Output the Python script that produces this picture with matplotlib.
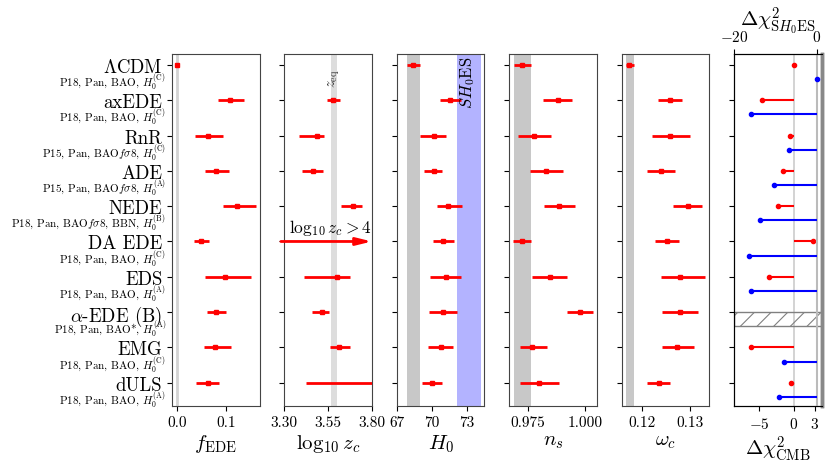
import numpy as np
import matplotlib
matplotlib.use("Agg")
import matplotlib.pyplot as plt
from matplotlib import transforms

plt.rcParams['font.family'] = 'serif'
plt.rcParams['font.serif'] = ['cmr10', 'DejaVu Serif']
plt.rcParams['mathtext.fontset'] = 'cm'
plt.rcParams['axes.unicode_minus'] = False
plt.rcParams['hatch.linewidth'] = 0.8

nan = np.nan

models = [r'$\Lambda$CDM', 'axEDE', 'RnR', 'ADE', 'NEDE', 'DA EDE', 'EDS',
          r'$\alpha$-EDE (B)', 'EMG', 'dULS']
datasets = [r'P18, Pan, BAO, $H_0^{\mathrm{(C)}}$',
            r'P18, Pan, BAO, $H_0^{\mathrm{(C)}}$',
            r'P15, Pan, BAO$f\sigma8$, $H_0^{\mathrm{(C)}}$',
            r'P15, Pan, BAO$f\sigma8$, $H_0^{\mathrm{(A)}}$',
            r'P18, Pan, BAO$f\sigma8$, BBN, $H_0^{\mathrm{(B)}}$',
            r'P18, Pan, BAO, $H_0^{\mathrm{(C)}}$',
            r'P18, Pan, BAO, $H_0^{\mathrm{(A)}}$',
            r'P18, Pan, BAO*, $H_0^{\mathrm{(A)}}$',
            r'P18, Pan, BAO, $H_0^{\mathrm{(C)}}$',
            r'P18, Pan, BAO, $H_0^{\mathrm{(A)}}$']

# best fit, lower and upper ends of the bars
f_ede = [0.0, 0.107, 0.063, 0.080, 0.122, 0.049, 0.097, 0.080, 0.077, 0.062]
f_ede_lo = [nan, 0.084, 0.036, 0.056, 0.093, 0.035, 0.057, 0.061, 0.055, 0.038]
f_ede_hi = [nan, 0.136, 0.093, 0.105, 0.160, 0.066, 0.151, 0.100, 0.109, 0.085]

log_zc = [nan, 3.579, 3.485, 3.462, 3.693, nan, 3.603, 3.512, 3.613, nan]
log_zc_lo = [nan, 3.544, 3.386, 3.401, 3.625, nan, 3.414, 3.459, 3.558, 3.426]
log_zc_hi = [nan, 3.619, 3.529, 3.521, 3.745, nan, 3.674, 3.556, 3.674, 3.90]

h0 = [68.40, 71.57, 70.14, 70.17, 71.40, 70.91, 71.17, 70.97, 70.77, 70.00]
h0_lo = [67.88, 70.71, 68.94, 69.31, 70.40, 70.11, 69.83, 69.71, 69.63, 69.11]
h0_hi = [68.94, 72.48, 71.17, 70.86, 72.54, 71.86, 72.43, 72.11, 71.77, 70.86]

n_s = [0.9725, 0.9884, 0.9778, 0.9831, 0.9889, 0.9727, 0.9847, 0.9977, 0.9770, 0.9801]
n_s_lo = [0.9689, 0.9817, 0.9707, 0.9759, 0.9822, 0.9687, 0.9770, 0.9924, 0.9717, 0.9718]
n_s_hi = [0.9765, 0.9946, 0.9851, 0.9904, 0.9959, 0.9766, 0.9921, 1.0034, 0.9833, 0.9888]

omega_c = [0.1173, 0.1258, 0.1259, 0.1239, 0.1295, 0.1252, 0.1280, 0.1279, 0.1272, 0.1236]
omega_c_lo = [0.1166, 0.1233, 0.1221, 0.1210, 0.1264, 0.1227, 0.1239, 0.1241, 0.1241, 0.1211]
omega_c_hi = [0.1182, 0.1283, 0.1299, 0.1268, 0.1326, 0.1278, 0.1332, 0.1316, 0.1309, 0.1259]

dchi2_cmb = [0.0, -4.5, -0.6, -1.6, -2.2, 2.8, -3.5, nan, -6.1, -0.4]
dchi2_shoes = [0.0, -16.0, -6.7, -10.4, -13.7, -16.4, -16.0, nan, -8.0, -9.2]

zeq_band = (3.565, 3.603)
h0_lcdm_band = (67.83, 68.94)
h0_shoes_band = (72.12, 74.17)
ns_band = (0.9689, 0.9765)
wc_band = (0.1166, 0.1182)

panels = [
    (f_ede, f_ede_lo, f_ede_hi, r'$f_{\mathrm{EDE}}$', (-0.01, 0.1675), [0.0, 0.1], ['0.0', '0.1']),
    (log_zc, log_zc_lo, log_zc_hi, r'$\log_{10}z_c$', (3.30, 3.80), [3.30, 3.55, 3.80], ['3.30', '3.55', '3.80']),
    (h0, h0_lo, h0_hi, r'$H_0$', (67, 74.45), [67, 70, 73], ['67', '70', '73']),
    (n_s, n_s_lo, n_s_hi, r'$n_s$', (0.967, 1.0052), [0.975, 1.0], ['0.975', '1.000']),
    (omega_c, omega_c_lo, omega_c_hi, r'$\omega_c$', (0.1157, 0.1340), [0.12, 0.13], ['0.12', '0.13']),
]

fig = plt.figure(figsize=(8.31, 4.64), dpi=100)
y = np.arange(len(models))
spine_col = '#444444'
axes = []
for i in range(6):
    ax = fig.add_axes([0.207 + i * 0.13526, 0.1228, 0.1053, 0.7587])
    ax.set_ylim(9.66, -0.31)
    ax.set_yticks(y)
    ax.tick_params(direction='out', length=3.5, width=0.8, labelsize=11)
    axes.append(ax)

for ax, (val, lo, hi, lab, xl, ticks, tlabs) in zip(axes[:5], panels):
    val, lo, hi = np.array(val), np.array(lo), np.array(hi)
    ok = ~np.isnan(lo)
    ax.hlines(y[ok], lo[ok], hi[ok], color='red', lw=2, zorder=3)
    okc = ~np.isnan(val)
    ax.plot(val[okc], y[okc], 's', color='red', ms=2.5, zorder=4)
    ax.set_xlim(xl)
    ax.set_xticks(ticks, tlabs)
    ax.set_xlabel(lab, fontsize=15, labelpad=2)
    for s in ax.spines.values():
        s.set_color(spine_col)
    if ax is not axes[0]:
        ax.set_yticklabels([])

# first panel: model labels
ax1 = axes[0]
ax1.set_yticklabels(models, fontsize=13.5)
ax1.axvline(0, color='lightgray', lw=2, zorder=1)
trans = transforms.blended_transform_factory(ax1.transAxes, ax1.transData)
for i, d in enumerate(datasets):
    ax1.text(-0.069, i + 0.47, d, transform=trans, ha='right', va='center', fontsize=8)

# log10 zc
ax2 = axes[1]
ax2.axvspan(*zeq_band, color='#dddddd', lw=0, zorder=1)
ax2.text(3.587, 0.1, r'$z_{\mathrm{eq}}$', rotation=90, ha='center', va='top', fontsize=10.5, color='#333333')
ax2.annotate('', xy=(3.80, 5), xytext=(3.28, 5), annotation_clip=False,
             arrowprops=dict(arrowstyle='-|>,head_length=0.9,head_width=0.22', color='red', lw=2, shrinkA=0, shrinkB=0))
ax2.text(3.325, 4.72, r'$\log_{10}z_c>4$', fontsize=12.5, ha='left', va='baseline')

# H0
ax3 = axes[2]
ax3.axvspan(*h0_lcdm_band, color='#c8c8c8', lw=0, zorder=1)
ax3.axvspan(*h0_shoes_band, color='#b3b3ff', lw=0, zorder=1)
ax3.text(73.05, -0.27, r'$SH_0$ES', rotation=90, ha='center', va='top', fontsize=12)

# ns
axes[3].axvspan(*ns_band, color='#c8c8c8', lw=0, zorder=1)
# omega_c
axes[4].axvspan(*wc_band, color='#c8c8c8', lw=0, zorder=1)

# delta chi2 panel
ax6 = axes[5]
ax6.set_yticklabels([])
ax6t = ax6.twiny()
ax6.set_xlim(-8.6, 4.0)
ax6t.set_xlim(-20, 1.2)
ax6.set_ylim(9.66, -0.31)
ax6.set_xticks([-5, 0, 3], ['$-5$', '$0$', '$3$'])
ax6t.set_xticks([-20, 0], ['$-20$', '$0$'])
ax6t.tick_params(direction='out', length=3.5, width=0.8, labelsize=11)
ax6.set_xlabel(r'$\Delta\chi^2_{\mathrm{CMB}}$', fontsize=15, labelpad=2)
ax6t.set_xlabel(r'$\Delta\chi^2_{\mathrm{S}H_0\mathrm{ES}}$', fontsize=15, labelpad=3)
ax6.axvline(0, color='#cccccc', lw=1.2, zorder=1)
ax6t.axvline(0, color='#bbbbbb', lw=1.5, zorder=1)
for a in (ax6, ax6t):
    a.spines['right'].set_color('#888888')
    a.spines['right'].set_linewidth(2.5)

cmb = np.array(dchi2_cmb)
shoes = np.array(dchi2_shoes)
ok = ~np.isnan(cmb)
ax6.hlines(y[ok], 0, cmb[ok], color='red', lw=1.5, zorder=3)
ax6.plot(cmb[ok], y[ok], 'o', color='red', ms=3, zorder=4)
ok = ~np.isnan(shoes)
ax6t.hlines(y[ok] + 0.4, 0, shoes[ok], color='blue', lw=1.5, zorder=3)
ax6t.plot(shoes[ok], y[ok] + 0.4, 'o', color='blue', ms=3, zorder=4)
ax6.axhspan(7, 7.4, facecolor='none', edgecolor='gray', hatch='//', lw=1, zorder=2)

plt.savefig('out.png', dpi=100)
